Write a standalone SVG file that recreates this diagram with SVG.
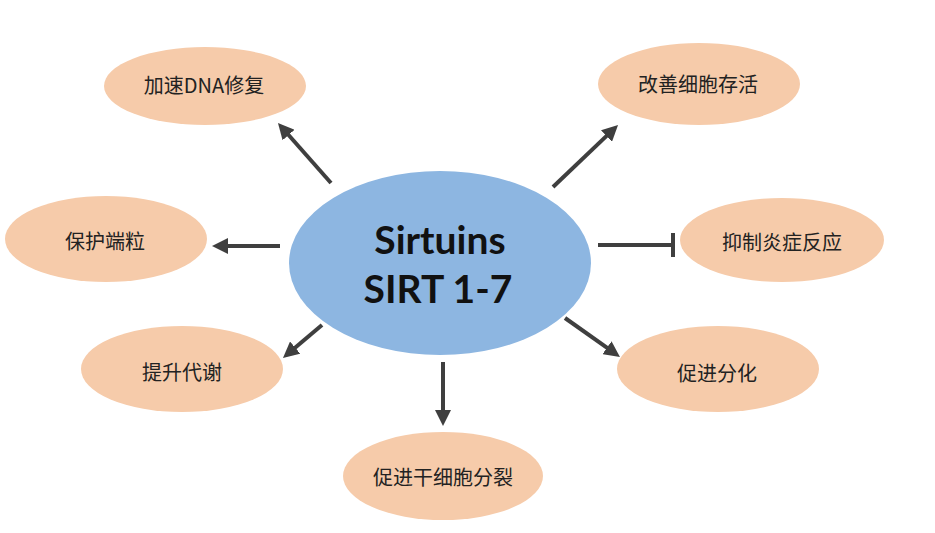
<svg xmlns="http://www.w3.org/2000/svg" width="935" height="533" viewBox="0 0 935 533">
<style>
.leaf{fill:#F6CBAA;}
.hub{fill:#8DB6E1;}
.lbl{font-family:"Noto Sans CJK SC","Noto Sans",sans-serif;font-size:20px;fill:#222;text-anchor:middle;dominant-baseline:central;}
.hubt{font-family:Lato,"Open Sans","Liberation Sans",sans-serif;font-weight:bold;font-size:39px;fill:#111;text-anchor:middle;}
.con{stroke:#3F3F3F;stroke-width:4;fill:none;}
</style>
<defs>
<marker id="ah" markerUnits="userSpaceOnUse" markerWidth="16" markerHeight="16" refX="6" refY="8" orient="auto">
<path d="M0,0 L16,8 L0,16 z" fill="#3F3F3F"/>
</marker>
</defs>
<rect width="935" height="533" fill="#fff"/>
<g id="connectors">
<line class="con" x1="331" y1="183" x2="284.6" y2="130.5" marker-end="url(#ah)"/>
<line class="con" x1="553" y1="187" x2="610.8" y2="131.9" marker-end="url(#ah)"/>
<line class="con" x1="280" y1="246" x2="222" y2="246" marker-end="url(#ah)"/>
<line class="con" x1="322" y1="325" x2="290.6" y2="351.5" marker-end="url(#ah)"/>
<line class="con" x1="565" y1="318" x2="611.8" y2="351.2" marker-end="url(#ah)"/>
<line class="con" x1="443" y1="362" x2="443" y2="416" marker-end="url(#ah)"/>
<line class="con" x1="598" y1="245" x2="673" y2="245"/>
<line class="con" x1="673" y1="233" x2="673" y2="257"/>
</g>
<g id="hub">
<ellipse class="hub" cx="440" cy="263" rx="151" ry="92"/>
<text class="hubt" x="440" y="254">Sirtuins</text>
<text class="hubt" x="438" y="303">SIRT 1-7</text>
</g>
<g id="n-dna">
<ellipse class="leaf" cx="205" cy="86" rx="101" ry="39"/>
<text class="lbl" x="204" y="84">加速DNA修复</text>
</g>
<g id="n-survival">
<ellipse class="leaf" cx="699" cy="84" rx="101" ry="41"/>
<text class="lbl" x="698" y="83">改善细胞存活</text>
</g>
<g id="n-inflam">
<ellipse class="leaf" cx="782" cy="240" rx="102" ry="42"/>
<text class="lbl" x="782" y="241">抑制炎症反应</text>
</g>
<g id="n-telomere">
<ellipse class="leaf" cx="106" cy="239" rx="101" ry="43"/>
<text class="lbl" x="105" y="240">保护端粒</text>
</g>
<g id="n-metab">
<ellipse class="leaf" cx="182" cy="369" rx="101" ry="43"/>
<text class="lbl" x="182" y="371">提升代谢</text>
</g>
<g id="n-diff">
<ellipse class="leaf" cx="718" cy="369" rx="101" ry="43"/>
<text class="lbl" x="717" y="372">促进分化</text>
</g>
<g id="n-stem">
<ellipse class="leaf" cx="443" cy="476" rx="100" ry="44"/>
<text class="lbl" x="443" y="476">促进干细胞分裂</text>
</g>
</svg>
